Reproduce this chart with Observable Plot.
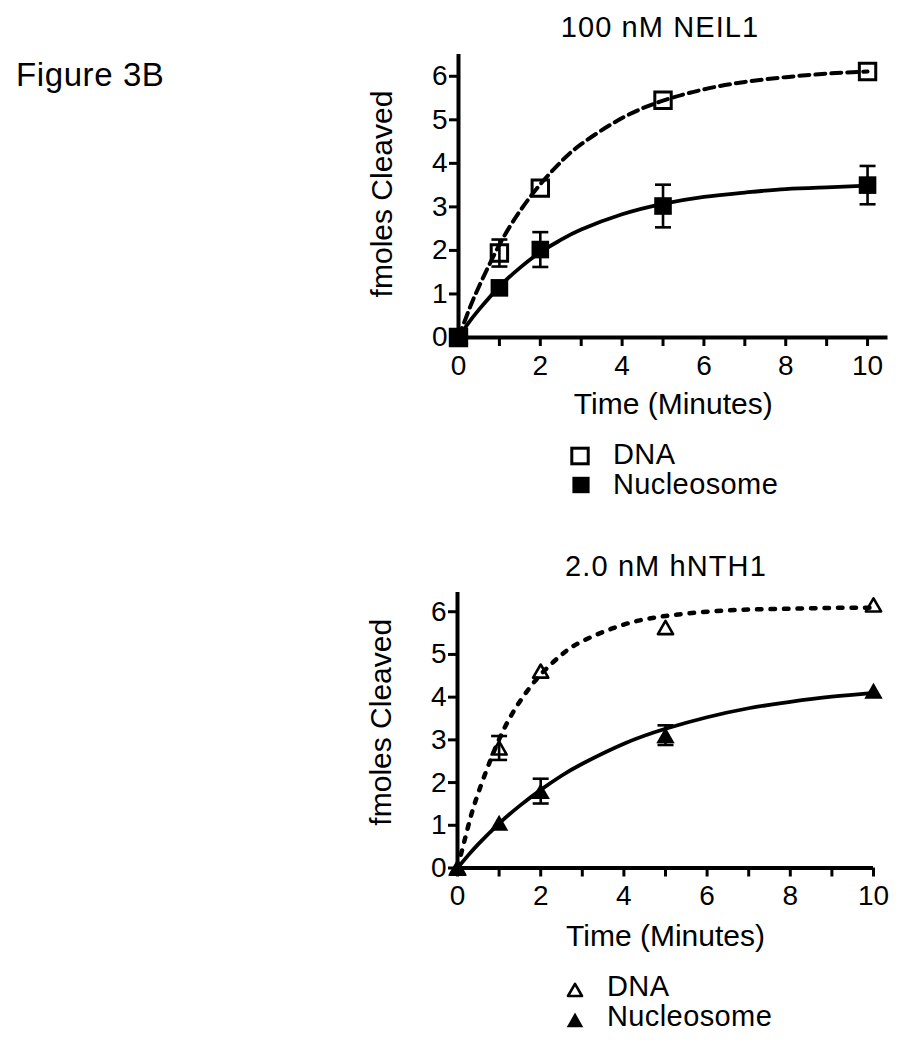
<!DOCTYPE html>
<html><head><meta charset="utf-8">
<script src="https://cdn.jsdelivr.net/npm/d3@7"></script>
<script src="https://cdn.jsdelivr.net/npm/@observablehq/plot@0.6"></script>
<style>
body{margin:0;background:#fff;}
#page{position:relative;width:915px;height:1050px;overflow:hidden;background:#fff;font-family:'Liberation Sans',Arial,Helvetica,sans-serif;color:#000;}
.t{position:absolute;white-space:nowrap;line-height:1;}
.plot{position:absolute;left:0;}
</style></head><body><div id="page"></div>
<script>
// ---- data ----
const time = [0, 1, 2, 5, 10];
// 100 nM NEIL1
const neil1DNA = [0, 1.94, 3.43, 5.45, 6.11];
const neil1DNAErr = [0, 0.31, 0, 0, 0];
const neil1Nuc = [0, 1.14, 2.02, 3.02, 3.50];
const neil1NucErr = [0, 0, 0.40, 0.49, 0.44];
// 2.0 nM hNTH1
const nth1DNA = [0, 2.81, 4.61, 5.63, 6.16];
const nth1DNAErr = [0, 0.28, 0, 0, 0];
const nth1Nuc = [0, 1.06, 1.80, 3.11, 4.15];
const nth1NucErr = [0, 0, 0.29, 0.23, 0];
// fitted curves
const fitTime = [0, 0.25, 0.5, 1, 1.5, 2, 2.5, 3, 4, 5, 6, 7, 8, 9, 10];
const neil1DNAFit = [0, 0.62, 1.17, 2.13, 2.90, 3.52, 4.03, 4.44, 5.04, 5.44, 5.70, 5.87, 5.98, 6.06, 6.11];
const neil1NucFit = [0, 0.34, 0.64, 1.17, 1.60, 1.96, 2.24, 2.48, 2.83, 3.07, 3.23, 3.33, 3.41, 3.45, 3.49];
const nth1DNAFit = [0, 0.95, 1.76, 3.01, 3.90, 4.53, 4.99, 5.31, 5.70, 5.90, 6.00, 6.05, 6.07, 6.09, 6.09];
const nth1NucFit = [0, 0.29, 0.56, 1.04, 1.46, 1.83, 2.16, 2.44, 2.91, 3.26, 3.53, 3.74, 3.89, 4.01, 4.10];
const yTicks = [0, 1, 2, 3, 4, 5, 6];
const xTicks = [0, 1, 2, 3, 4, 5, 6, 7, 8, 9, 10];
const legendLabels = ["DNA", "Nucleosome"];

const page = document.getElementById("page");
const rows = (ys, es) => time.map((t, i) => ({t, y: ys[i], e: es[i]}));
const fitRows = ys => fitTime.map((t, i) => ({t, y: ys[i]}));

const capSym = {draw(ctx, size) {const r = Math.sqrt(size / Math.PI); ctx.moveTo(-r, 0); ctx.lineTo(r, 0);}};
const squareSym = {draw(ctx, size) {const r = Math.sqrt(size / Math.PI); ctx.rect(-r, -r, 2 * r, 2 * r);}};
const triSym = {draw(ctx, size) {const r = Math.sqrt(size / Math.PI); const h = r * Math.sqrt(3); ctx.moveTo(0, -h / 2); ctx.lineTo(r, h / 2); ctx.lineTo(-r, h / 2); ctx.closePath();}};

function errMarks(data) {
  const d = data.filter(r => r.e > 0);
  return [
    Plot.ruleX(d, {x: "t", y1: r => r.y - r.e, y2: r => r.y + r.e, strokeWidth: 2.6, stroke: "black"}),
    Plot.dot(d, {x: "t", y: r => r.y + r.e, symbol: capSym, r: 8, stroke: "black", strokeWidth: 2.6, fill: "none"}),
    Plot.dot(d, {x: "t", y: r => r.y - r.e, symbol: capSym, r: 8, stroke: "black", strokeWidth: 2.6, fill: "none"})
  ];
}

function panel(cfg) {
  const p = Plot.plot({
    width: 915, height: cfg.height,
    marginLeft: cfg.ml, marginRight: cfg.mr, marginTop: cfg.mt, marginBottom: cfg.mb,
    style: {fontFamily: "'Liberation Sans', Arial, Helvetica, sans-serif", color: "black", background: "none", overflow: "visible"},
    x: {domain: cfg.xDomain},
    y: {domain: cfg.yDomain},
    marks: [
      Plot.axisX({ticks: xTicks, tickSize: 9, tickPadding: cfg.tp, strokeWidth: 3, fontSize: 28, tickFormat: d => d % 2 === 0 ? String(d) : "", label: null}),
      Plot.axisY({ticks: yTicks, tickSize: 9, tickPadding: 2, strokeWidth: 3, fontSize: 28, tickFormat: d => String(d), label: null}),
      Plot.ruleY([0], {strokeWidth: 4, stroke: "black"}),
      Plot.ruleX([0], {strokeWidth: 4, stroke: "black"}),
      Plot.text(["fmoles Cleaved"], {text: d => d, frameAnchor: "left", textAnchor: "middle", rotate: -90, lineAnchor: "bottom", dx: -67, dy: cfg.ylDy, fontSize: 30, fill: "black"}),
      Plot.text(["Time (Minutes)"], {text: d => d, frameAnchor: "bottom", textAnchor: "middle", lineAnchor: "bottom", dy: cfg.xlDy, fontSize: 30, fill: "black"}),
      Plot.line(fitRows(cfg.dnaFit), {x: "t", y: "y", curve: "natural", strokeWidth: cfg.dashW, strokeDasharray: cfg.dash, stroke: "black"}),
      Plot.line(fitRows(cfg.nucFit), {x: "t", y: "y", curve: "natural", strokeWidth: 3.8, stroke: "black"}),
      ...errMarks(rows(cfg.nuc, cfg.nucErr)),
      ...errMarks(rows(cfg.dna, cfg.dnaErr)),
      Plot.dot(rows(cfg.dna, cfg.dnaErr), {x: "t", y: "y", symbol: cfg.sym, r: cfg.rOpen, stroke: "black", strokeWidth: cfg.openW, fill: "none", strokeLinejoin: cfg.join}),
      Plot.dot(rows(cfg.nuc, cfg.nucErr), {x: "t", y: "y", symbol: cfg.sym, r: cfg.rFilled, fill: "black", stroke: "none"})
    ]
  });
  p.classList.add("plot");
  p.style.top = cfg.top + "px";
  page.appendChild(p);
}

panel({top: 40, height: 400, ml: 458, mr: 27.5, mt: 14, mb: 103, tp: 9, xDomain: [0, 10.5], yDomain: [0, 6.5],
  dna: neil1DNA, dnaErr: neil1DNAErr, nuc: neil1Nuc, nucErr: neil1NucErr, dnaFit: neil1DNAFit, nucFit: neil1NucFit,
  dash: "10,6", dashW: 4, sym: squareSym, rOpen: 8.2, rFilled: 8.8, openW: 3, join: "miter", ylDy: -2, xlDy: 76});

panel({top: 560, height: 420, ml: 457, mr: 42, mt: 32, mb: 112.5, tp: 8.5, xDomain: [0, 10], yDomain: [0, 6.45],
  dna: nth1DNA, dnaErr: nth1DNAErr, nuc: nth1Nuc, nucErr: nth1NucErr, dnaFit: nth1DNAFit, nucFit: nth1NucFit,
  dash: "4.5,9", dashW: 4.5, sym: triSym, rOpen: 7.6, rFilled: 9.2, openW: 2.6, join: "round", ylDy: -8, xlDy: 77.5});

// ---- text outside the plots ----
function addText(str, {left, center, baseline, size, spacing = 0}) {
  const d = document.createElement("div");
  d.className = "t";
  d.textContent = str;
  d.style.fontSize = size + "px";
  d.style.letterSpacing = spacing + "px";
  d.style.top = (baseline - 0.8465 * size) + "px";
  if (center != null) { d.style.left = center + "px"; d.style.transform = "translateX(-50%)"; }
  else d.style.left = left + "px";
  page.appendChild(d);
}
addText("Figure 3B", {left: 16, baseline: 86, size: 33, spacing: 0.6});
addText("100 nM NEIL1", {center: 660, baseline: 38, size: 29, spacing: 1.1});
addText("2.0 nM hNTH1", {center: 666, baseline: 577, size: 29, spacing: 1.1});

function addSymbol(svgInner, cx, cy) {
  const s = document.createElementNS("http://www.w3.org/2000/svg", "svg");
  s.setAttribute("width", 30); s.setAttribute("height", 30);
  s.setAttribute("viewBox", "-15 -15 30 30");
  s.style.position = "absolute"; s.style.left = (cx - 15) + "px"; s.style.top = (cy - 15) + "px";
  s.innerHTML = svgInner;
  page.appendChild(s);
}
// top legend
addSymbol('<rect x="-8.2" y="-7.8" width="16.4" height="15.6" fill="none" stroke="black" stroke-width="3"/>', 580, 456);
addSymbol('<rect x="-8.6" y="-8.2" width="17.2" height="16.4" fill="black"/>', 581, 485);
addText(legendLabels[0], {left: 613, baseline: 465, size: 29, spacing: 0.4});
addText(legendLabels[1], {left: 613, baseline: 495, size: 29, spacing: 0.4});
// bottom legend
addSymbol('<path d="M0,-6.2L7,6L-7,6Z" fill="none" stroke="black" stroke-width="2.6" stroke-linejoin="round"/>', 575, 990);
addSymbol('<path d="M0,-7.4L8.3,7.3L-8.3,7.3Z" fill="black"/>', 575, 1020);
addText(legendLabels[0], {left: 607, baseline: 997, size: 29, spacing: 0.4});
addText(legendLabels[1], {left: 607, baseline: 1027, size: 29, spacing: 0.4});
</script>
</body></html>
